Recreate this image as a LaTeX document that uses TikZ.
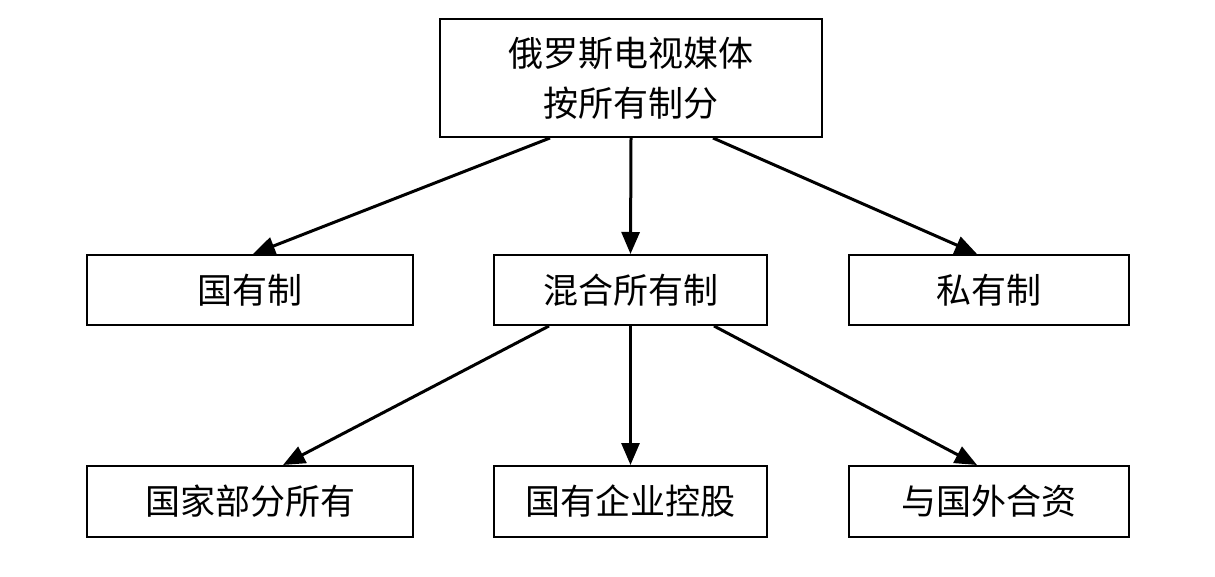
\documentclass[tikz,border=0pt]{standalone}
\usepackage{fontspec}
\setmainfont{Noto Sans CJK SC}
\usepackage{tikz}
\usetikzlibrary{arrows.meta}

\tikzset{
  box/.style={draw, line width=1pt, fill=white, inner sep=0pt, align=center,
    font=\fontsize{17.5pt}{25pt}\selectfont},
  arr/.style={-{Triangle[length=11pt, width=9pt]}, line width=1.5pt}
}

\begin{document}
\begin{tikzpicture}[x=0.5pt, y=-0.5pt]
  \useasboundingbox (0,0) rectangle (1215,577);
  % Top
  \node[box, minimum width=191pt, minimum height=59pt] (media) at (631, 78) {俄罗斯电视媒体\\按所有制分};

  % Second row
  \node[box, minimum width=163pt, minimum height=35pt] (state) at (250, 290) {国有制};
  \node[box, minimum width=136.5pt, minimum height=35pt] (mixed) at (630.5, 290) {混合所有制};
  \node[box, minimum width=140pt, minimum height=35pt] (private) at (989, 290) {私有制};

  % Third row
  \node[box, minimum width=163pt, minimum height=35.5pt] (partial) at (250, 501.5) {国家部分所有};
  \node[box, minimum width=136.5pt, minimum height=35.5pt] (holding) at (630.5, 501.5) {国有企业控股};
  \node[box, minimum width=140pt, minimum height=35.5pt] (foreign) at (989, 501.5) {与国外合资};

  % Arrows
  \draw[arr] ([xshift=-40.5pt]media.south) -- ([xshift=1.5pt]state.north);
  \draw[arr] (media.south) -- (mixed.north);
  \draw[arr] ([xshift=41pt]media.south) -- ([xshift=-6pt]private.north);

  \draw[arr] ([xshift=-40.75pt]mixed.south) -- ([xshift=16.5pt]partial.north);
  \draw[arr] (mixed.south) -- (holding.north);
  \draw[arr] ([xshift=41.75pt]mixed.south) -- ([xshift=-6pt]foreign.north);
\end{tikzpicture}
\end{document}
